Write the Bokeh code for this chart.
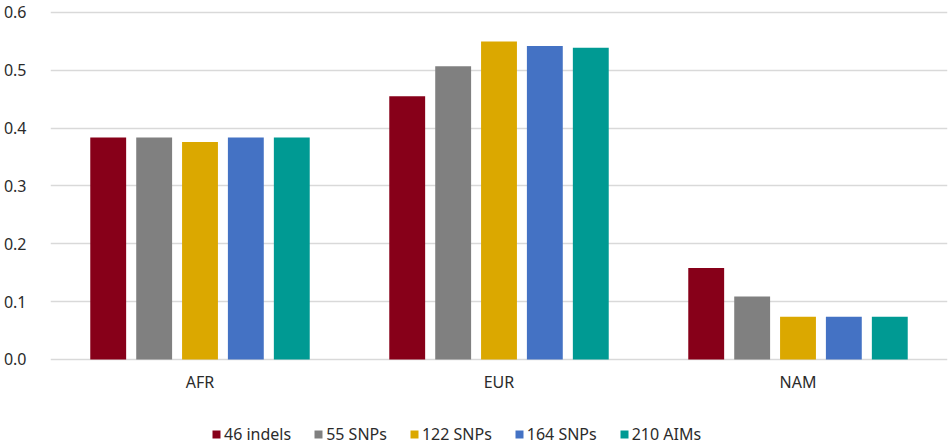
from bokeh.plotting import figure
from bokeh.models import ColumnDataSource, FactorRange, FixedTicker, Legend, LegendItem, NumeralTickFormatter, Range1d
from bokeh.transform import dodge
from bokeh.embed import file_html
from bokeh.resources import INLINE

categories = ["AFR", "EUR", "NAM"]
series_names = ["46 indels", "55 SNPs", "122 SNPs", "164 SNPs", "210 AIMs"]
indels_46 = [0.384, 0.455, 0.158]
snps_55 = [0.384, 0.507, 0.109]
snps_122 = [0.376, 0.550, 0.074]
snps_164 = [0.384, 0.542, 0.074]
aims_210 = [0.384, 0.539, 0.074]
y_ticks = [0.0, 0.1, 0.2, 0.3, 0.4, 0.5, 0.6]

colors = ["#870019", "#808080", "#DBA800", "#4472C4", "#009A93"]
offsets = [-0.307, -0.1533, 0.0, 0.1533, 0.307]
series_values = [indels_46, snps_55, snps_122, snps_164, aims_210]

source = ColumnDataSource(data=dict(cat=categories, zero=[0.0] * len(categories),
                                    **{f"s{i}": v for i, v in enumerate(series_values)}))

FONT = "Noto Sans"
TEXT_COLOR = "#2b2b2b"
p = figure(x_range=FactorRange(factors=categories, range_padding=0),
           y_range=Range1d(-0.1522, 0.6207),
           x_axis_location=None,
           width=950, height=447, output_backend="svg", toolbar_location=None,
           min_border_left=46, min_border_right=3, min_border_top=0, min_border_bottom=0)
p.outline_line_color = None
p.background_fill_color = "white"
p.border_fill_color = "white"

renderers = []
for i, name in enumerate(series_names):
    r = p.vbar(x=dodge("cat", offsets[i], range=p.x_range), top=f"s{i}", width=0.12,
               source=source, fill_color=colors[i], line_color=None)
    renderers.append(r)

# category labels under the bars
p.text(x="cat", y="zero", text="cat", source=source, y_offset=23,
       text_align="center", text_baseline="middle",
       text_font={"value": FONT}, text_font_size="16px", text_color=TEXT_COLOR)

p.yaxis.ticker = FixedTicker(ticks=y_ticks)
p.yaxis.formatter = NumeralTickFormatter(format="0.0")
p.yaxis.axis_line_color = None
p.yaxis.major_tick_line_color = None
p.yaxis.minor_tick_line_color = None
p.yaxis.major_label_text_font = FONT
p.yaxis.major_label_text_font_size = "16px"
p.yaxis.major_label_text_color = TEXT_COLOR
p.yaxis.major_label_standoff = 18

p.xgrid.grid_line_color = None
p.ygrid.ticker = FixedTicker(ticks=y_ticks)
p.ygrid.grid_line_color = "#D9D9D9"
p.ygrid.grid_line_width = 1.5

legend = Legend(items=[LegendItem(label=n, renderers=[r]) for n, r in zip(series_names, renderers)],
                orientation="horizontal", location=(161, 2),
                glyph_width=10, glyph_height=10, label_height=20, label_standoff=3, spacing=22,
                padding=0, margin=0,
                label_text_font=FONT, label_text_font_size="16px", label_text_color=TEXT_COLOR,
                border_line_color=None, background_fill_alpha=0)
p.add_layout(legend, "center")

open("out.html", "w").write(file_html(p, INLINE))
